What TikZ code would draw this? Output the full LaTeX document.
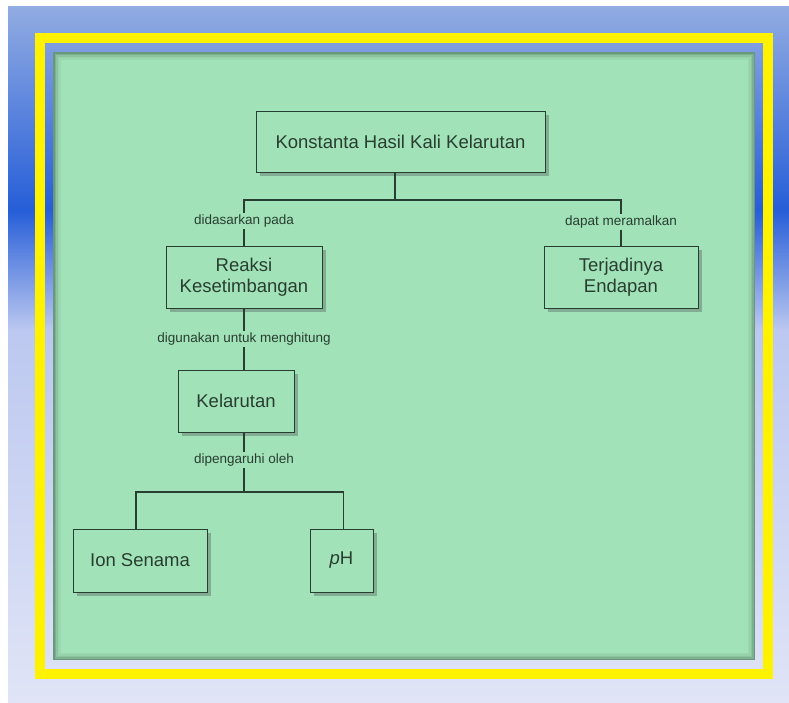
\documentclass[tikz,border=0pt]{standalone}
\usepackage{fontspec}
\setmainfont{Liberation Sans}
\usetikzlibrary{shadows}
\definecolor{paper}{RGB}{162,226,184}
\definecolor{ink}{RGB}{40,62,48}
\definecolor{skyA}{RGB}{146,172,226}
\definecolor{skyB}{RGB}{38,94,216}
\definecolor{skyC}{RGB}{188,200,240}
\definecolor{skyD}{RGB}{224,228,246}
\begin{document}
\begin{tikzpicture}[x=1pt, y=-1pt, every node/.style={font=\fontsize{13.5}{15}\selectfont, text=ink},
  box/.style={draw=ink, thick, fill=paper, align=center, inner sep=0pt, font=\fontsize{18.5}{21}\selectfont,
    drop shadow={shadow xshift=4pt, shadow yshift=-4pt, opacity=0.35, fill=black!70}},
  link/.style={draw=ink, line width=1.1pt},
  lbl/.style={inner sep=1.5pt}]
\useasboundingbox (0,0) rectangle (789,702);
% backdrop and frame
\shade[top color=skyA, bottom color=skyB] (8,6) rectangle (789,210.5);
\shade[top color=skyB, bottom color=skyC] (8,210) rectangle (789,330.5);
\shade[top color=skyC, bottom color=skyD] (8,330) rectangle (789,702);
\draw[yellow, line width=10pt] (40,38) rectangle (768,673.5);
\fill[paper] (53,52) rectangle (755,660);
\foreach \d/\o in {0/0.45,1.5/0.3,3/0.18,4.5/0.1,6/0.05}
  \draw[ink, opacity=\o, line width=1.5pt] ({53.75+\d},{52.75+\d}) rectangle ({754.25-\d},{659.25-\d});
% concept boxes
\node[box, minimum width=289pt, minimum height=61pt] (ksp) at (400.5,141.5) {Konstanta Hasil Kali Kelarutan};
\node[box, minimum width=156pt, minimum height=62pt] (reaksi) at (244,277) {Reaksi\\Kesetimbangan};
\node[box, minimum width=154pt, minimum height=62pt] (endapan) at (621,277) {Terjadinya\\Endapan};
\node[box, minimum width=116pt, minimum height=62pt] (kelarutan) at (236,401) {Kelarutan};
\node[box, minimum width=134pt, minimum height=63pt] (ion) at (140,560.5) {Ion Senama};
\node[box, minimum width=63pt, minimum height=63pt] (ph) at (341.5,560.5) {{\itshape p}H};
% link words
\node[lbl] (dasar) at (244,221) {didasarkan pada};
\node[lbl] (ramal) at (621,222) {dapat meramalkan};
\node[lbl] (hitung) at (244,339) {digunakan untuk menghitung};
\node[lbl] (pengaruh) at (244,460) {dipengaruhi oleh};
\coordinate (split) at (395,200);
\coordinate (fork) at (244,492);
% connectors
\draw[link] (ksp.south -| split) -- (split);
\draw[link] (split) -| (dasar);
\draw[link] (split) -| (ramal);
\draw[link] (dasar) -- (reaksi);
\draw[link] (ramal) -- (endapan);
\draw[link] (reaksi) -- (hitung);
\draw[link] (hitung) -- (hitung |- kelarutan.north);
\draw[link] (kelarutan.south -| pengaruh) -- (pengaruh);
\draw[link] (pengaruh) -- (fork);
\draw[link] (fork) -| ([xshift=-4pt]ion.north);
\draw[link] (fork) -| ([xshift=2pt]ph.north);
\end{tikzpicture}
\end{document}
